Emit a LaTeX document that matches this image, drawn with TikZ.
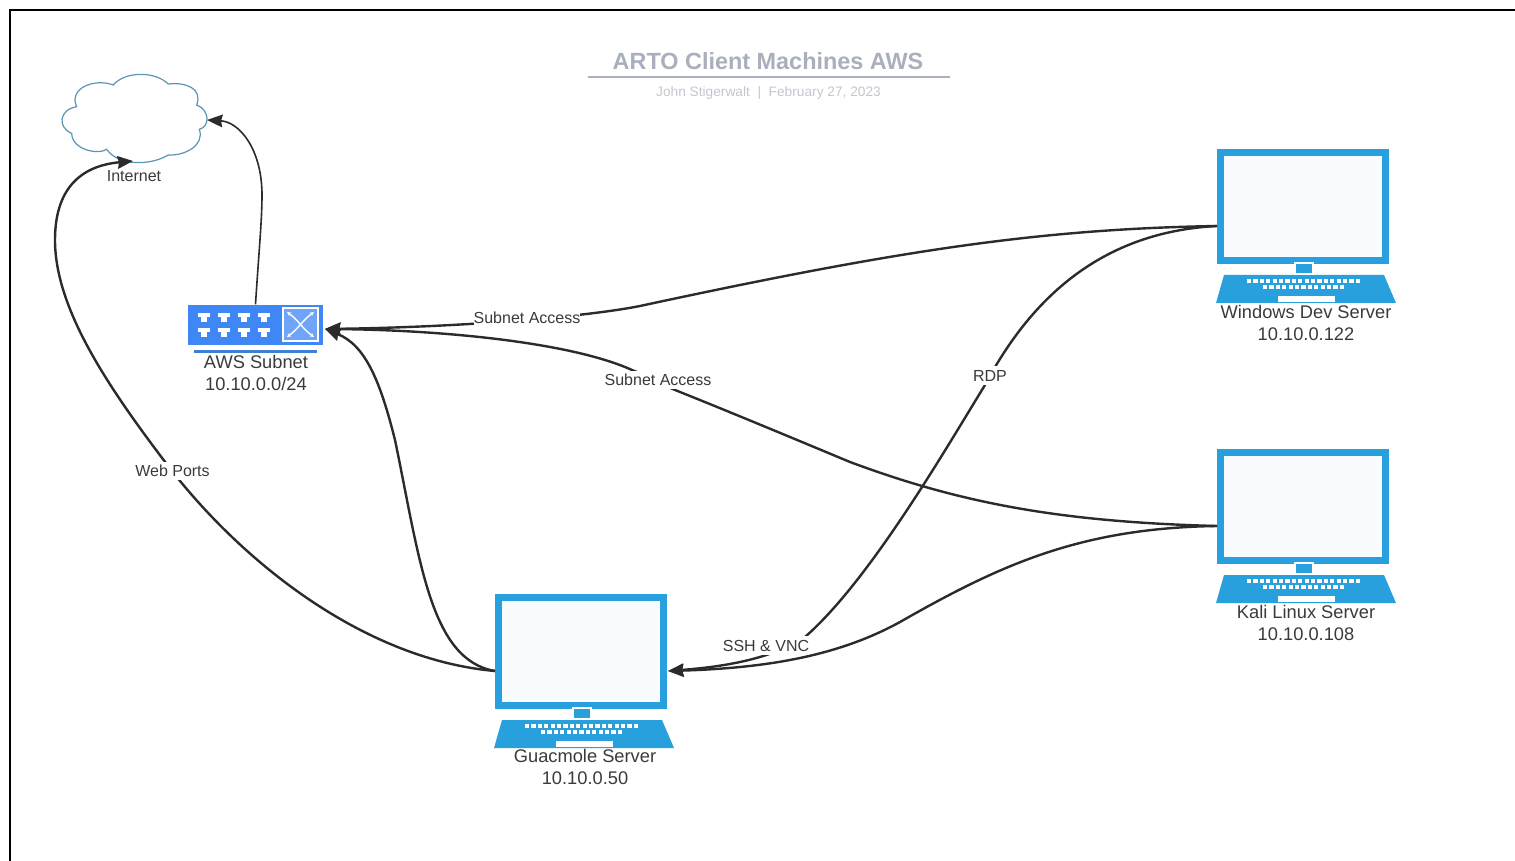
\documentclass[tikz,border=0pt]{standalone}
\usepackage{fontspec}
\setmainfont{Liberation Sans}
\usetikzlibrary{arrows.meta}
\definecolor{laptopblue}{HTML}{27A0DD}
\definecolor{screenfill}{HTML}{F8FCFE}
\definecolor{switchblue}{HTML}{3F87F5}
\definecolor{barblue}{HTML}{3F7FD6}
\definecolor{cloudline}{HTML}{5A95B5}
\definecolor{titlegrey}{HTML}{A9AFBC}
\definecolor{subgrey}{HTML}{C2C6CE}
\definecolor{labelgrey}{HTML}{3A3A3A}
\definecolor{flowgrey}{HTML}{2B2B2B}
\tikzset{
    screenbox/.style={draw=laptopblue,fill=screenfill,line width=0.07cm,minimum width=1.65cm,minimum height=1.08cm,inner sep=0pt},
    switchbox/.style={fill=switchblue,minimum width=1.35cm,minimum height=0.4cm,inner sep=0pt},
    hostlabel/.style={align=center,text=labelgrey,font=\fontsize{5.2}{6.26}\selectfont},
    edgelabel/.style={fill=white,text=labelgrey,inner xsep=0pt,inner ysep=1pt,font=\fontsize{4.55}{5.5}\selectfont},
    flow/.style={draw=flowgrey,line width=0.024cm,-{Stealth[length=4.4pt,width=3.6pt,inset=0.4pt]}},
    laptop/.pic={
        \node[screenbox] (-screen) at (86,57.5) {};
        \coordinate (-left) at (0,77);
        \coordinate (-right) at (173,77);
        \fill[laptopblue] (7,126)--(167,126)--(179,154)--(-1,154)--cycle;
        \draw[white,fill=laptopblue,line width=0.012cm] (78,114) rectangle (96,125);
        \foreach \k in {0,...,17} \fill[white] (30+\k*6.4,130) rectangle ++(4.2,4.2);
        \foreach \k in {0,...,12} \fill[white] (46+\k*6.4,136) rectangle ++(4.2,4.2);
        \fill[white] (61,147) rectangle (118,153);
    }
}
\begin{document}
\begin{tikzpicture}[x=0.01cm,y=-0.01cm]
    \useasboundingbox (0,0) rectangle (1515,861);
    \draw[black,line width=0.02cm] (10,861)--(10,10)--(1515,10);

    % title block
    \node[text=titlegrey,font=\fontsize{6.66}{8}\selectfont\bfseries] (title) at (768,61) {ARTO Client Machines AWS};
    \draw[titlegrey,line width=0.02cm] (588,77.5)--(950,77.5);
    \node[text=subgrey,font=\fontsize{3.9}{5}\selectfont] (subtitle) at (768.5,92.5) {John Stigerwalt~~|~~February 27, 2023};

    % machines
    \draw[cloudline,fill=white,line width=0.012cm] (76.7,106.7) .. controls (58,110) and (58,128) .. (71.7,133.3)
        .. controls (72,150) and (98,155) .. (106.7,149.3)
        .. controls (118,166) and (150,166) .. (168.3,155)
        .. controls (185,156) and (205,145) .. (199.3,129.3)
        .. controls (210,127) and (210,110) .. (196.7,105)
        .. controls (203,88) and (185,82) .. (168.3,84)
        .. controls (155,71) and (125,71) .. (113.3,85)
        .. controls (95,78) and (68,88) .. cycle;
    \coordinate (inetright) at (207,120);
    \coordinate (inetbottom) at (133,161);
    \node[switchbox] (aws) at (255.5,325) {};
    \coordinate (awsright) at (325,329);
    \fill[barblue] (194,350) rectangle (317,353.5);
    \foreach \x in {198,218,238,258} \foreach \y in {313,328} {
        \fill[white] (\x,\y) rectangle ++(12,4);
        \fill[white] (\x+3,\y+4) rectangle ++(6,5);
    }
    \draw[white,fill=switchblue!75!white,line width=0.012cm] (283,308) rectangle (318,341);
    \draw[white,line width=0.014cm,{Stealth[length=1.2pt,width=1.2pt]}-{Stealth[length=1.2pt,width=1.2pt]}] (287,312) .. controls (298,320) and (303,329) .. (314,337);
    \draw[white,line width=0.014cm,{Stealth[length=1.2pt,width=1.2pt]}-{Stealth[length=1.2pt,width=1.2pt]}] (287,337) .. controls (298,329) and (303,320) .. (314,312);
    \pic (win) at (1217,149) {laptop};
    \pic (kali) at (1217,449) {laptop};
    \pic (guac) at (495,594) {laptop};

    % connectors
    \draw[flow,line width=0.016cm] (aws.north) .. controls (259,250) and (262,220) .. (262,195) .. controls (262,150) and (240,122) .. (inetright);
    \draw[flow] (win-left) .. controls (1040,229) and (900,250) .. (640,306) .. controls (590,316) and (470,327) .. (awsright);
    \draw[flow] (kali-left) .. controls (1060,522) and (960,503) .. (850,462) .. controls (790,437) and (730,412) .. (680,392) .. controls (660,384) and (650,377) .. (632,370) .. controls (570,342) and (440,330) .. (awsright);
    \draw[flow] (win-left) .. controls (1100,232) and (1030,300) .. (985,385) .. controls (945,450) and (870,580) .. (805,637) .. controls (770,660) and (720,667) .. (guac-right);
    \draw[flow] (kali-left) .. controls (1080,528) and (1000,565) .. (900,622) .. controls (840,655) and (770,668) .. (guac-right);
    \draw[flow] (guac-left) .. controls (430,660) and (420,560) .. (395,440) .. controls (380,380) and (365,345) .. (awsright);
    \draw[flow] (guac-left) .. controls (370,660) and (250,570) .. (172,471) .. controls (110,390) and (55,310) .. (55,240) .. controls (55,180) and (90,165) .. (inetbottom);

    % labels
    \node[hostlabel,font=\fontsize{4.55}{5.5}\selectfont] (inetlabel) at (134,176) {Internet};
    \node[hostlabel] (awslabel) at (256,373) {AWS Subnet\\10.10.0.0/24};
    \node[hostlabel] (winlabel) at (1306,322.5) {Windows Dev Server\\10.10.0.122};
    \node[hostlabel] (kalilabel) at (1306,622.5) {Kali Linux Server\\10.10.0.108};
    \node[hostlabel] (guaclabel) at (585,767) {Guacmole Server\\10.10.0.50};
    \node[edgelabel] (subneta) at (527,317.5) {Subnet Access};
    \node[edgelabel] (subnetb) at (658,380) {Subnet Access};
    \node[edgelabel] (rdp) at (990,375.5) {RDP};
    \node[edgelabel] (sshvnc) at (766,645.5) {SSH \& VNC};
    \node[edgelabel] (webports) at (172.5,471) {Web Ports};
\end{tikzpicture}
\end{document}
